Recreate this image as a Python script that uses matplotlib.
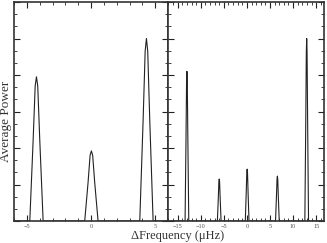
import numpy as np
import matplotlib
matplotlib.use('Agg')
import matplotlib.pyplot as plt
from matplotlib.ticker import MultipleLocator

plt.rcParams['font.family'] = ['Liberation Serif', 'DejaVu Serif']

# Left panel: three peaks (frequency in uHz, average power in arbitrary units)
left_freq = [-6.0, -4.77, -4.51, -4.35, -4.25, -4.15, -3.99, -3.73,
             -0.49, -0.23, -0.07, 0.03, 0.13, 0.29, 0.55,
             3.80, 4.06, 4.22, 4.32, 4.42, 4.58, 4.84, 6.0]
left_power = [0, 0, 2.2, 3.7, 3.95, 3.7, 2.2, 0,
              0, 1.05, 1.8, 1.92, 1.8, 1.05, 0,
              0, 2.75, 4.65, 5.0, 4.65, 2.75, 0, 0]

# Right panel: five peaks
right_freq = [-17.1, -13.4, -13.2, -13.08, -13.0, -12.92, -12.8, -12.6,
              -6.4, -6.2, -6.08, -6.0, -5.92, -5.8, -5.6,
              -0.35, -0.15, -0.03, 0.05, 0.13, 0.25, 0.45,
              6.2, 6.4, 6.52, 6.6, 6.68, 6.8, 7.0,
              12.55, 12.75, 12.87, 12.95, 13.03, 13.15, 13.35, 16.7]
right_power = [0, 0, 2.25, 3.8, 4.1, 3.8, 2.25, 0,
               0, 0.63, 1.07, 1.15, 1.07, 0.63, 0,
               0, 0.78, 1.32, 1.42, 1.32, 0.78, 0,
               0, 0.68, 1.14, 1.23, 1.14, 0.68, 0,
               0, 2.75, 4.65, 5.0, 4.65, 2.75, 0, 0]

fig = plt.figure(figsize=(3.27, 2.43), dpi=100)
ax1 = fig.add_axes([14 / 327, 22 / 243, 154 / 327, 219 / 243])
ax2 = fig.add_axes([168 / 327, 22 / 243, 156 / 327, 219 / 243])

line_col = '#222222'
ax1.plot(left_freq, left_power, color=line_col, lw=0.8)
ax2.plot(right_freq, right_power, color=line_col, lw=0.8)

ax1.set_xlim(-6, 6)
ax2.set_xlim(-17.1, 16.7)

for ax in (ax1, ax2):
    ax.set_ylim(0, 6)
    ax.xaxis.set_major_locator(MultipleLocator(5))
    ax.xaxis.set_minor_locator(MultipleLocator(1))
    ax.yaxis.set_major_locator(MultipleLocator(1))
    ax.yaxis.set_minor_locator(MultipleLocator(1 / 3))
    ax.tick_params(which='both', direction='in', top=True, right=True,
                   labelsize=4.5, color=line_col, labelcolor='#555555',
                   pad=2)
    ax.tick_params(which='major', length=4, width=0.8)
    ax.tick_params(which='minor', length=2, width=0.6)
    ax.set_yticklabels([])
    for sp in ax.spines.values():
        sp.set_color('#333333')
        sp.set_linewidth(1.2)

fig.text(6 / 327, 0.5, 'Average Power', rotation=90, ha='center',
         va='center', fontsize=9.5, color='#333333')
fig.text(178 / 327, 1 / 243, '\u0394Frequency (\u03bcHz)', ha='center',
         va='bottom', fontsize=9, color='#333333')

fig.savefig('out.png', dpi=100)
